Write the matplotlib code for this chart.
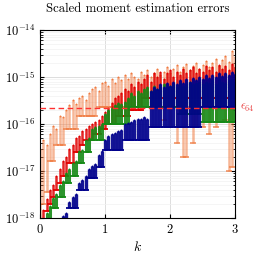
import numpy as np
import matplotlib
matplotlib.use('Agg')
import matplotlib.pyplot as plt

plt.rcParams['font.family'] = 'serif'
plt.rcParams['font.serif'] = ['cmr10', 'DejaVu Serif']
plt.rcParams['mathtext.fontset'] = 'cm'
plt.rcParams['axes.formatter.use_mathtext'] = True

# k grid (shared), each series starts at its own index
K_GRID = [0.00, 0.05, 0.10, 0.15, 0.20, 0.25, 0.30, 0.35, 0.40, 0.45,
          0.50, 0.55, 0.60, 0.65, 0.70, 0.75, 0.80, 0.85, 0.90, 0.95,
          1.00, 1.05, 1.10, 1.15, 1.20, 1.25, 1.30, 1.35, 1.40, 1.45,
          1.50, 1.55, 1.60, 1.65, 1.70, 1.75, 1.80, 1.85, 1.90, 1.95,
          2.00, 2.05, 2.10, 2.15, 2.20, 2.25, 2.30, 2.35, 2.40, 2.45,
          2.50, 2.55, 2.60, 2.65, 2.70, 2.75, 2.80, 2.85, 2.90, 2.95, 3.00]

UNIT = 1e-16  # values below are in units of 1e-16
EPS64 = 2.22e-16

# orange, k = 0.00 .. 3.00
orange_top = [0.3, 0.45, 0.35, 0.6, 0.9, 0.8, 1.5, 1.4, 2.0, 2.5,
              3.2, 2.6, 3.5, 4.0, 3.2, 4.5, 5.5, 6.0, 5.0, 7.5,
              8.0, 6.5, 9.0, 7.5, 10, 8.5, 11, 9.0, 12, 10,
              9.0, 13, 11, 14, 10, 12, 15, 11, 13, 16,
              12, 15, 18, 13, 16, 19, 14, 17, 20, 15,
              18, 22, 16, 20, 24, 17, 23, 28, 21, 35, 26]
orange_bot = [0.006, 0.02, 0.036, 0.16, 0.16, 0.35, 0.35, 0.35, 0.8, 0.8,
              0.8, 0.8, 1.5, 1.5, 1.5, 1.5, 1.5, 1.5, 2.3, 2.3,
              2.3, 2.3, 2.3, 2.3, 2.3, 2.3, 2.3, 2.3, 2.3, 2.3,
              2.3, 2.3, 2.3, 2.3, 2.3, 2.3, 2.3, 2.3, 1.2, 2.3,
              0.86, 2.3, 0.4, 2.3, 0.2, 0.2, 2.3, 0.4, 0.86, 2.3,
              0.86, 2.3, 0.6, 2.3, 0.86, 2.3, 2.3, 1.2, 0.1, 0.12, 2.3]

# red, k = 0.05 .. 3.00
red_top = [0.015, 0.025, 0.04, 0.05, 0.08, 0.11, 0.16, 0.2, 0.3, 0.35,
           0.5, 0.55, 0.7, 0.8, 0.9, 1.0, 1.1, 1.2, 1.5, 1.8,
           2.2, 2.8, 3.5, 4.0, 4.5, 5.5, 5.0, 7.0, 6.0, 8.0,
           7.0, 9.0, 11, 8.0, 12, 10, 13, 9.0, 12, 14,
           10, 13, 11, 15, 12, 14, 16, 12, 15, 13,
           17, 14, 16, 13, 18, 15, 17, 14, 19, 16]
red_bot = [0.006, 0.014, 0.02, 0.028, 0.04, 0.056, 0.08, 0.08, 0.15, 0.15,
           0.25, 0.25, 0.35, 0.46, 0.46, 0.46, 0.6, 0.6, 0.8, 0.8,
           1.0, 1.0, 1.0, 1.5, 1.5, 1.5, 1.5, 2.0, 2.0, 2.0,
           2.0, 3.5, 3.5, 3.5, 3.5, 3.5, 3.5, 3.5, 3.5, 3.5,
           3.5, 3.5, 3.5, 3.5, 3.5, 3.5, 3.5, 3.5, 3.5, 3.5,
           3.5, 3.5, 3.5, 3.5, 3.5, 3.5, 3.5, 3.5, 3.5, 3.5]

# green, k = 0.10 .. 3.00
green_top = [0.013, 0.018, 0.026, 0.032, 0.05, 0.06, 0.09, 0.11, 0.15, 0.16,
             0.26, 0.28, 0.45, 0.5, 0.8, 0.86, 0.9, 1.0, 1.6, 2.0,
             2.2, 2.5, 2.8, 2.6, 3.0, 3.5, 4.5, 4.0, 5.0, 4.5,
             5.5, 6.0, 5.0, 6.5, 5.5, 6.0, 7.0, 6.0, 6.5, 7.0,
             6.0, 7.5, 6.5, 7.0, 8.0, 7.0, 7.5, 8.0, 7.0, 8.0,
             7.5, 8.5, 7.0, 9.0, 8.0, 7.5, 8.5, 9.0, 8.0]
green_bot = [0.006, 0.009, 0.016, 0.016, 0.028, 0.028, 0.056, 0.056, 0.08, 0.08,
             0.15, 0.15, 0.25, 0.25, 0.46, 0.46, 0.46, 0.46, 1.0, 1.0,
             1.0, 1.0, 1.0, 1.0, 1.0, 1.0, 2.3, 2.3, 2.3, 2.3,
             2.3, 2.3, 2.3, 2.3, 2.3, 2.3, 2.3, 2.3, 2.3, 2.3,
             2.3, 1.6, 1.6, 1.6, 1.6, 1.6, 1.6, 1.6, 1.1, 1.1,
             1.1, 1.1, 1.1, 1.1, 1.1, 1.1, 1.1, 1.1, 1.1]

# blue, k = 0.35 .. 3.00
blue_top = [0.011, 0.013, 0.022, 0.028, 0.032, 0.055, 0.065, 0.08, 0.11, 0.13,
            0.14, 0.22, 0.26, 0.45, 0.55, 0.6, 0.65, 0.7, 0.75, 1.0,
            1.05, 1.1, 1.2, 1.3, 1.25, 1.4, 1.3, 5.0, 6.0, 5.5,
            7.0, 6.0, 7.5, 6.5, 8.0, 7.0, 8.5, 7.5, 9.0, 8.0,
            9.5, 8.5, 10, 9.0, 11, 9.5, 11, 10, 12, 10.5,
            12, 11, 13, 11.5]
blue_bot = [0.006, 0.006, 0.016, 0.016, 0.016, 0.04, 0.04, 0.04, 0.07, 0.07,
            0.07, 0.12, 0.12, 0.28, 0.28, 0.28, 0.28, 0.28, 0.28, 0.46,
            0.46, 0.46, 0.46, 0.46, 0.46, 0.46, 0.46, 0.86, 0.86, 0.86,
            0.86, 0.86, 0.86, 0.86, 0.86, 0.86, 0.86, 0.86, 0.86, 0.86,
            0.86, 0.86, 0.86, 2.3, 2.3, 2.3, 2.3, 2.3, 2.3, 2.3,
            2.3, 2.3, 2.3, 2.3]

# (k, top, bottom, colour, bar alpha, bar width)
series = [
    (K_GRID[0:], orange_top, orange_bot, '#f07a40', 0.55, 1.8),
    (K_GRID[1:], red_top, red_bot, '#e00000', 0.85, 1.8),
    (K_GRID[2:], green_top, green_bot, '#168a16', 0.9, 2.2),
    (K_GRID[7:], blue_top, blue_bot, '#00008c', 0.92, 2.4),
]

fig = plt.figure(figsize=(2.6, 2.56), dpi=100)
ax = fig.add_axes([40 / 260, 1 - 218 / 256, 195 / 260, 188 / 256])

for k, top, bot, col, a, lw in series:
    k = np.array(k)
    top = np.array(top) * UNIT
    bot = np.array(bot) * UNIT
    ax.vlines(k, bot, top, color=col, lw=lw, alpha=a, zorder=2)
    # bottom caps make the staircase
    ax.plot(k, bot, ls='none', marker='_', ms=5, mew=1.3, color=col, alpha=min(1, a + 0.2), zorder=2)
    ax.plot(k, top, ls='none', marker='o', ms=1.4, mew=0, color=col, zorder=2)

ax.axhline(EPS64, color='#ff3030', lw=1.0, ls=(0, (4, 2.5)), zorder=3)
ax.text(3.07, EPS64, r'$\epsilon_{64}$', color='#e84040', fontsize=8.5, va='center', ha='left')

ax.set_yscale('log')
ax.set_xlim(0, 3)
ax.set_ylim(1e-18, 1e-14)
ax.set_xticks([0, 1, 2, 3])
ax.set_yticks([1e-18, 1e-17, 1e-16, 1e-15, 1e-14])
ax.grid(True, which='major', color='#dddddd', lw=0.7, zorder=0)
ax.grid(True, which='minor', axis='y', color='#f2f2f2', lw=0.5, zorder=0)
ax.set_axisbelow(True)
ax.tick_params(which='both', direction='in', right=True, top=True, labelsize=9)
ax.tick_params(which='major', length=3)
ax.tick_params(which='minor', length=1.8)
for s in ax.spines.values():
    s.set_linewidth(0.8)

ax.set_title('Scaled moment estimation errors', fontsize=9.2, pad=13)
ax.set_xlabel(r'$k$', fontsize=10, labelpad=3)

fig.savefig('out.png', dpi=100)
